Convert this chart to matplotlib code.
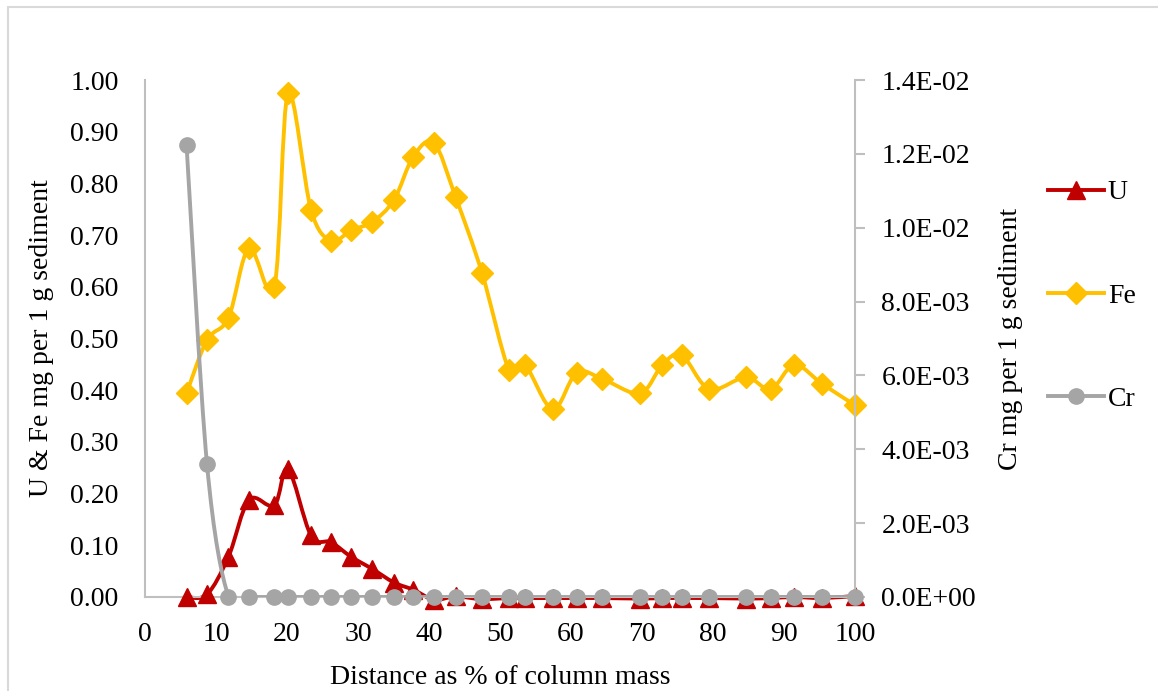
import numpy as np
import matplotlib
matplotlib.use("Agg")
import matplotlib.pyplot as plt
from matplotlib.path import Path
from matplotlib.patches import PathPatch, Rectangle
from matplotlib.lines import Line2D
from matplotlib.ticker import FuncFormatter, MultipleLocator

#----------------------------------------------------------------------data
distance = [5.85, 8.73, 11.76, 14.65, 18.21, 20.14, 23.38, 26.2, 29.01, 32.04,
            35.07, 37.79, 40.7, 43.76, 47.46, 51.27, 53.52, 57.42, 60.8, 64.41,
            69.72, 72.86, 75.59, 79.48, 84.61, 88.13, 91.45, 95.39, 100.0]

u_mg = [0.0, 0.005, 0.078, 0.188, 0.177, 0.248, 0.119, 0.106, 0.078, 0.054,
        0.028, 0.014, -0.005, 0.001, -0.004, -0.002, -0.002, -0.002, -0.002, -0.002,
        -0.003, -0.002, -0.002, -0.002, -0.003, -0.002, 0.0, -0.002, 0.002]

fe_mg = [0.394, 0.497, 0.540, 0.675, 0.600, 0.974, 0.749, 0.689, 0.709, 0.726,
         0.768, 0.852, 0.878, 0.773, 0.627, 0.439, 0.449, 0.363, 0.434, 0.422,
         0.394, 0.449, 0.468, 0.402, 0.425, 0.402, 0.449, 0.412, 0.371]

cr_mg = [0.01224, 0.0036, 0.0, 0.0, 0.0, 0.0, 0.0, 0.0, 0.0, 0.0,
         0.0, 0.0, 0.0, 0.0, 0.0, 0.0, 0.0, 0.0, 0.0, 0.0,
         0.0, 0.0, 0.0, 0.0, 0.0, 0.0, 0.0, 0.0, 0.0]

series_names = ["U", "Fe", "Cr"]

#----------------------------------------------------------------------style
FONT = "Liberation Serif"
plt.rcParams['font.family'] = [FONT, 'DejaVu Serif']
FS = 20
AXIS_GREY = "#BFBFBF"
C_U = "#C00000"
C_FE = "#FFC000"
C_CR = "#A5A5A5"
LW = 2.8


def smooth_path(xs, ys):
    # excel-like smoothed line: cubic bezier through the points
    xs = np.asarray(xs, float)
    ys = np.asarray(ys, float)
    n = len(xs)
    verts = [(xs[0], ys[0])]
    codes = [Path.MOVETO]
    for i in range(n - 1):
        i0 = max(i - 1, 0)
        i3 = min(i + 2, n - 1)
        c1 = (xs[i] + (xs[i + 1] - xs[i0]) / 6.0, ys[i] + (ys[i + 1] - ys[i0]) / 6.0)
        c2 = (xs[i + 1] - (xs[i3] - xs[i]) / 6.0, ys[i + 1] - (ys[i3] - ys[i]) / 6.0)
        verts += [c1, c2, (xs[i + 1], ys[i + 1])]
        codes += [Path.CURVE4] * 3
    return Path(verts, codes)


def draw_series(ax, xs, ys, color, marker, ms, clip_line=True):
    patch = PathPatch(smooth_path(xs, ys), fill=False, edgecolor=color,
                      linewidth=LW, capstyle='round', joinstyle='round', clip_on=clip_line)
    ax.add_patch(patch)
    ax.plot(xs, ys, linestyle='none', marker=marker, markersize=ms,
            color=color, markeredgecolor=color, clip_on=False, zorder=3)


fig = plt.figure(figsize=(11.58, 6.91), dpi=100)

# outer chart frame
fig.add_artist(Rectangle((8 / 1158, -0.2), 1.5, (691 - 7) / 691 + 0.2,
                         transform=fig.transFigure, fill=False,
                         edgecolor="#D9D9D9", linewidth=1.5))

ax = fig.add_axes([145 / 1158, (691 - 597) / 691, 710 / 1158, 517 / 691])
ax2 = ax.twinx()

draw_series(ax, distance, u_mg, C_U, '^', 13, clip_line=False)
draw_series(ax, distance, fe_mg, C_FE, 'D', 11)
draw_series(ax2, distance, cr_mg, C_CR, 'o', 11)

ax.set_xlim(0, 100)
ax.set_ylim(0, 1.0)
ax2.set_ylim(0, 0.014)

ax.xaxis.set_major_locator(MultipleLocator(10))
ax.yaxis.set_major_locator(MultipleLocator(0.1))
ax2.yaxis.set_major_locator(MultipleLocator(0.002))
ax.yaxis.set_major_formatter(FuncFormatter(lambda v, p: "%.2f" % v))
ax2.yaxis.set_major_formatter(FuncFormatter(lambda v, p: "%.1E" % v))

for a in (ax, ax2):
    for s in a.spines.values():
        s.set_visible(False)
ax.spines['left'].set_visible(True)
ax.spines['bottom'].set_visible(True)
ax2.spines['right'].set_visible(True)
for s in (ax.spines['left'], ax.spines['bottom'], ax2.spines['right']):
    s.set_color(AXIS_GREY)
    s.set_linewidth(1.5)

ax.tick_params(axis='x', length=0, pad=18, labelsize=FS)
ax.tick_params(axis='y', length=0, pad=19, labelsize=FS)
ax2.tick_params(axis='y', length=7, width=1.5, color=AXIS_GREY, pad=12, labelsize=FS)

ax.set_xlabel("Distance as % of column mass", fontsize=FS, labelpad=13)
ax.set_ylabel("U & Fe mg per 1 g sediment", fontsize=FS, labelpad=12)
ax2.set_ylabel("Cr mg per 1 g sediment", fontsize=FS, labelpad=16)

ax2.set_zorder(ax.get_zorder() + 1)
ax2.patch.set_visible(False)

handles = [
    Line2D([], [], color=C_U, lw=LW, marker='^', markersize=13),
    Line2D([], [], color=C_FE, lw=LW, marker='D', markersize=11),
    Line2D([], [], color=C_CR, lw=LW, marker='o', markersize=11),
]
fig.legend(handles, series_names, loc='upper left',
           bbox_to_anchor=(1023 / 1158, 1 - 155 / 691),
           frameon=False, fontsize=FS, labelspacing=2.8,
           handlelength=2.0, handletextpad=0.15)

fig.savefig("out.png", dpi=100)
